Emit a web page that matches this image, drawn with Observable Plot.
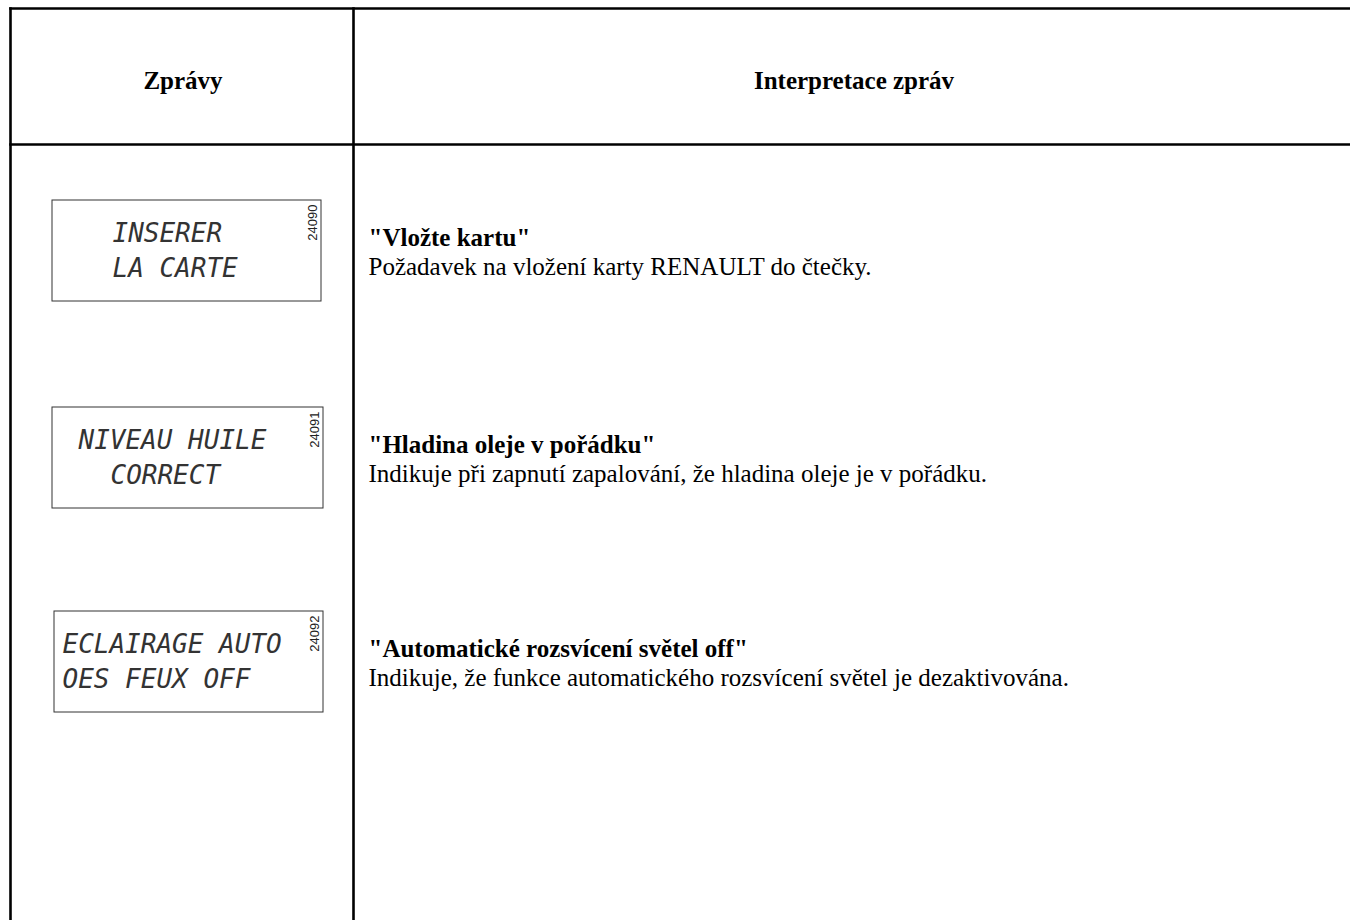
<!DOCTYPE html>
<html>
<head>
<meta charset="utf-8">
<script src="https://cdn.jsdelivr.net/npm/d3@7"></script>
<script src="https://cdn.jsdelivr.net/npm/@observablehq/plot@0.6"></script>
<style>
  html, body { margin: 0; padding: 0; background: #fff; }
  #chart svg { display: block; }
</style>
</head>
<body>
<div id="chart"></div>
<script>
// ---- content ----
const headers = ["Zprávy", "Interpretace zpráv"];
const lcdLine1 = ["INSERER", "NIVEAU HUILE", "ECLAIRAGE AUTO"];
const lcdLine2 = ["LA CARTE", "CORRECT", "OES FEUX OFF"];
const codes = ["24090", "24091", "24092"];
const titles = ["\"Vložte kartu\"", "\"Hladina oleje v pořádku\"", "\"Automatické rozsvícení světel off\""];
const descriptions = [
  "Požadavek na vložení karty RENAULT do čtečky.",
  "Indikuje při zapnutí zapalování, že hladina oleje je v pořádku.",
  "Indikuje, že funkce automatického rozsvícení světel je dezaktivována."
];

// ---- layout (pixels) ----
const W = 1350, H = 920;
const L = {
  left: 10, top: 8, headerBottom: 144, divider: 353,
  rowTop: [200, 407, 611], boxH: 101,
  boxX1: [52, 52, 54], boxX2: [321, 323, 323],
  lcdX1: [112, 78, 62], lcdX2: [112, 110, 62],
  textX: 368
};

const rows = titles.map((t, i) => ({
  i, title: t, desc: descriptions[i], code: codes[i],
  l1: lcdLine1[i], l2: lcdLine2[i],
  top: L.rowTop[i], x1: L.boxX1[i], x2: L.boxX2[i],
  lx1: L.lcdX1[i], lx2: L.lcdX2[i]
}));

const gridLines = [
  {x1: L.left, y1: L.top, x2: W, y2: L.top},
  {x1: L.left, y1: L.headerBottom, x2: W, y2: L.headerBottom},
  {x1: L.left, y1: L.top, x2: L.left, y2: H},
  {x1: L.divider, y1: L.top, x2: L.divider, y2: H}
];
const headerData = headers.map((h, i) => ({
  h, x: i === 0 ? (L.left + L.divider) / 2 + 1 : (L.divider + W) / 2 + 2
}));

const serif = "'Liberation Serif', 'Times New Roman', serif";
const lcdFont = "'DejaVu Sans Mono', monospace";

const plot = Plot.plot({
  width: W, height: H,
  margin: 0,
  x: {type: "linear", domain: [0, W], range: [0, W], axis: null},
  y: {type: "linear", domain: [0, H], range: [0, H], axis: null},
  style: {background: "#fff"},
  marks: [
    Plot.link(gridLines, {x1: "x1", y1: "y1", x2: "x2", y2: "y2", stroke: "#000", strokeWidth: 2.6, strokeLinecap: "square"}),
    Plot.text(headerData, {x: "x", y: 88, text: "h", fontFamily: serif, fontWeight: "bold", fontSize: 25, fill: "#000", lineAnchor: "bottom", textAnchor: "middle"}),
    // LCD boxes
    Plot.rect(rows, {x1: "x1", x2: "x2", y1: "top", y2: d => d.top + L.boxH, fill: "#fff", stroke: "#333", strokeWidth: 1}),
    Plot.text(rows, {x: "lx1", y: d => d.top + 41, text: "l1", fontFamily: lcdFont, fontStyle: "italic", fontSize: 26, fill: "#333", textAnchor: "start", lineAnchor: "bottom"}),
    Plot.text(rows, {x: "lx2", y: d => d.top + 76, text: "l2", fontFamily: lcdFont, fontStyle: "italic", fontSize: 26, fill: "#333", textAnchor: "start", lineAnchor: "bottom"}),
    Plot.text(rows, {x: d => d.x2 - 9, y: d => d.top + 4, text: "code", rotate: -90, fontFamily: "'Liberation Sans', Arial, sans-serif", fontSize: 13, fill: "#222", textAnchor: "end", lineAnchor: "middle"}),
    // interpretation
    Plot.text(rows, {x: L.textX, y: d => d.top + 45, text: "title", fontFamily: serif, fontWeight: "bold", fontSize: 25, fill: "#000", textAnchor: "start", lineAnchor: "bottom"}),
    Plot.text(rows, {x: L.textX, y: d => d.top + 74, text: "desc", fontFamily: serif, fontSize: 25, fill: "#000", textAnchor: "start", lineAnchor: "bottom"})
  ]
});
document.getElementById("chart").appendChild(plot);
</script>
</body>
</html>
